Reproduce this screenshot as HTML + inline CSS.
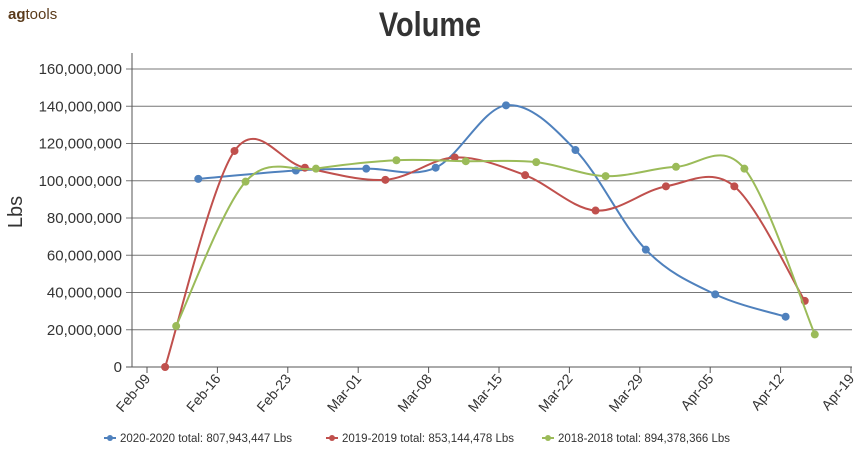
<!DOCTYPE html>
<html><head><meta charset="utf-8"><style>
body{margin:0;background:#fff;width:860px;height:450px;overflow:hidden;font-family:"Liberation Sans",sans-serif}
</style></head><body>
<svg id="chart" width="860" height="450" font-family="Liberation Sans, sans-serif">
<text x="8" y="19" font-size="15" fill="#5a3a1a"><tspan font-weight="bold">ag</tspan>tools</text>
<text x="430" y="36" text-anchor="middle" font-size="34" font-weight="bold" fill="#333" transform="translate(430,0) scale(0.85,1) translate(-430,0)">Volume</text>
<text transform="translate(22,212) rotate(-90)" text-anchor="middle" font-size="20" fill="#333">Lbs</text>
<g id="grid"></g><g id="series"></g><g id="legend"></g>
</svg>
<script>
const yTicks=[0,20e6,40e6,60e6,80e6,100e6,120e6,140e6,160e6];
const xTickLabels=["Feb-09","Feb-16","Feb-23","Mar-01","Mar-08","Mar-15","Mar-22","Mar-29","Apr-05","Apr-12","Apr-19"];
const names=["2020-2020 total: 807,943,447 Lbs","2019-2019 total: 853,144,478 Lbs","2018-2018 total: 894,378,366 Lbs"];
const days2020=[5.1,14.8,21.8,28.7,35.7,42.6,49.6,56.5,63.5];
const vals2020=[101e6,105.5e6,106.5e6,107e6,140.5e6,116.5e6,63e6,39e6,27e6];
const days2019=[1.8,8.7,15.7,23.7,30.6,37.6,44.6,51.6,58.4,65.4];
const vals2019=[0,116e6,107e6,100.5e6,112.5e6,103e6,84e6,97e6,97e6,35.5e6];
const days2018=[2.9,9.8,16.8,24.8,31.7,38.7,45.6,52.6,59.4,66.4];
const vals2018=[22e6,99.5e6,106.5e6,111e6,110.5e6,110e6,102.5e6,107.5e6,106.5e6,17.5e6];
const colors=["#4f81bd","#c0504d","#9bbb59"];
const NS="http://www.w3.org/2000/svg";
const L=132,R=852,B=367,T=69;
const xs=d=>147+d*(704/70);
const ys=v=>B-(v/160e6)*(B-T);
function mk(tag,attrs,parent){const e=document.createElementNS(NS,tag);for(const k in attrs)e.setAttribute(k,attrs[k]);parent.appendChild(e);return e;}
const grid=document.getElementById('grid');
yTicks.forEach(v=>{
  const y=ys(v);
  const ln=mk('line',{x1:L-6,x2:R,y1:y,y2:y,stroke:v===0?'#555':'#777','stroke-width':1},grid);
  
  
  const t=mk('text',{x:122,y:y+5,'text-anchor':'end','font-size':15,fill:'#333'},grid);
  t.textContent=v.toLocaleString('en-US');
  
  
});
const ax=mk('line',{x1:L,x2:L,y1:53,y2:B,stroke:'#555'},grid);


xTickLabels.forEach((s,i)=>{
  const x=xs(i*7);
  const tk=mk('line',{x1:x,x2:x,y1:B,y2:B+6,stroke:'#555'},grid);
  
  
  const t=mk('text',{transform:`translate(${x+4},${B+12}) rotate(-50)`,'text-anchor':'end','font-size':14,fill:'#333'},grid);
  t.textContent=s;
  
  
});
function spline(p){
  let d=`M${p[0][0]},${p[0][1]}`;
  for(let i=0;i<p.length-1;i++){
    const p0=p[i-1]||p[i],p1=p[i],p2=p[i+1],p3=p[i+2]||p2;
    const c1=[p1[0]+(p2[0]-p0[0])/6,p1[1]+(p2[1]-p0[1])/6];
    const c2=[p2[0]-(p3[0]-p1[0])/6,p2[1]-(p3[1]-p1[1])/6];
    d+=`C${c1[0]},${c1[1]} ${c2[0]},${c2[1]} ${p2[0]},${p2[1]}`;
  }
  return d;
}
const sg=document.getElementById('series');
[[days2020,vals2020],[days2019,vals2019],[days2018,vals2018]].forEach(([ds,vs],si)=>{
  const pts=ds.map((d,i)=>[xs(d),ys(vs[i])]);
  const p=mk('path',{d:spline(pts),fill:'none',stroke:colors[si],'stroke-width':2},sg);
  
  
  pts.forEach(q=>{
    const c=mk('circle',{cx:q[0],cy:q[1],r:4,fill:colors[si]},sg);
    
    
  });
});
const lg=document.getElementById('legend');
const lx=[104,326,542];
names.forEach((n,i)=>{
  const g=mk('g',{},lg);
  
  
  mk('line',{x1:lx[i],x2:lx[i]+12,y1:438,y2:438,stroke:colors[i],'stroke-width':2},g);
  mk('circle',{cx:lx[i]+6,cy:438,r:3,fill:colors[i]},g);
  const t=mk('text',{x:lx[i]+16,y:442,'font-size':11.5,fill:'#333'},g);
  t.textContent=n;
});
</script>
</body></html>
